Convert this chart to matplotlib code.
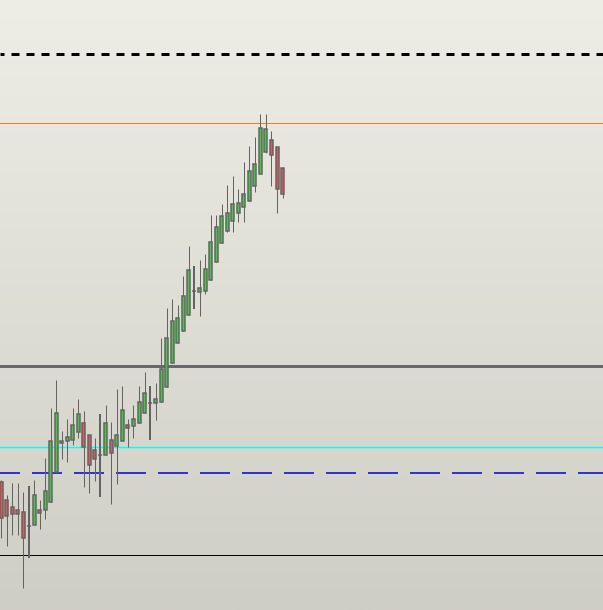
import matplotlib
matplotlib.use("Agg")
import matplotlib.pyplot as plt
from matplotlib.patches import Rectangle
import numpy as np

# ---- data (price units) ----
opens  = [112.8, 111.0, 110.3, 110.0, 109.8, 108.4, 108.5, 110.0, 110.0, 110.8,
          113.8, 116.7, 116.9, 117.0, 117.8, 118.7, 117.5, 116.0, 115.5, 115.5,
          117.0, 116.4, 116.9, 118.5, 118.4, 118.7, 119.7, 120.7, 120.7, 120.8,
          122.3, 124.7, 126.7, 127.9, 129.5, 131.9, 131.8, 131.9, 133.0, 134.8,
          136.7, 137.9, 138.9, 139.7, 140.3, 140.9, 142.4, 143.6, 145.8, 147.0,
          146.3, 144.2]
highs  = [113.0, 111.5, 112.7, 112.7, 111.8, 112.4, 113.0, 111.0, 115.2, 120.2,
          123.0, 117.9, 119.1, 120.2, 121.1, 119.9, 117.5, 117.2, 119.6, 120.5,
          118.8, 122.1, 122.4, 119.1, 120.5, 122.4, 123.8, 122.4, 122.7, 127.2,
          130.2, 131.1, 130.5, 133.4, 136.4, 134.4, 135.0, 135.6, 139.5, 139.5,
          140.6, 142.5, 143.4, 142.1, 144.8, 146.4, 147.3, 149.6, 149.6, 147.9,
          146.3, 144.2]
lows   = [107.2, 106.4, 107.5, 107.5, 102.2, 105.2, 108.5, 108.1, 109.1, 110.8,
          113.8, 115.1, 114.8, 116.5, 117.2, 112.3, 111.7, 112.9, 111.3, 115.5,
          110.6, 112.6, 116.9, 116.3, 117.2, 118.7, 119.7, 117.0, 119.0, 120.8,
          122.3, 124.7, 126.7, 127.9, 129.5, 130.1, 129.4, 131.6, 133.0, 134.8,
          136.7, 137.8, 137.8, 138.8, 138.8, 140.9, 141.8, 143.6, 145.7, 142.4,
          139.7, 141.2]
closes = [109.2, 109.4, 109.6, 109.6, 107.2, 108.4, 111.5, 109.7, 111.9, 116.9,
          119.7, 116.9, 117.3, 118.5, 119.6, 116.3, 114.5, 115.1, 115.5, 118.7,
          115.7, 117.5, 120.0, 118.2, 119.1, 120.8, 121.7, 120.7, 121.1, 124.1,
          127.2, 128.9, 129.2, 131.4, 134.0, 131.9, 132.2, 134.1, 136.8, 138.3,
          139.4, 139.7, 140.6, 140.7, 141.6, 143.9, 144.6, 148.2, 148.1, 145.5,
          142.1, 141.6]

level_black_dashed = 155.6
level_orange = 148.67
level_gray = 124.37
level_cyan = 116.27
level_blue_dashed = 113.73
level_black = 105.5

# ---- figure ----
W, H, DPI = 603, 610, 100
plt.rcParams['lines.scale_dashes'] = False
fig = plt.figure(figsize=(W / DPI, H / DPI), dpi=DPI)
ax = fig.add_axes([0, 0, 1, 1])
spacing_px = 5.52
x0_px = 1.0
xlim = (-x0_px / spacing_px, (W - x0_px) / spacing_px)
ylim = (100.0, 161.0)
ax.set_xlim(*xlim)
ax.set_ylim(*ylim)
ax.axis('off')

# background gradient
top = np.array([239, 238, 230]) / 255.0
bot = np.array([207, 206, 197]) / 255.0
t = np.linspace(0, 1, 256)[:, None]
grad = (top[None, :] * (1 - t) + bot[None, :] * t)[:, None, :]
ax.imshow(grad, extent=[xlim[0], xlim[1], ylim[0], ylim[1]], aspect='auto',
          origin='upper', zorder=0, interpolation='bilinear')

px = 0.72  # points per pixel at 100 dpi

# horizontal levels
ax.axhline(level_black_dashed, color='black', lw=3 * px, zorder=1,
           linestyle=(4 * px, (8 * px, 7 * px)))
ax.axhline(level_orange, color='#f0801e', lw=1 * px, zorder=1)
ax.axhline(level_gray, color='#696969', lw=3 * px, zorder=1)
ax.axhline(level_cyan, color='#00ffff', lw=1.4 * px, zorder=1)
ax.axhline(level_blue_dashed, color='#3232dc', lw=2 * px, zorder=1,
           linestyle=(10 * px, (30 * px, 12 * px)))
ax.axhline(level_black, color='black', lw=1 * px, zorder=1)

# candles
edge = '#636363'
green = '#3fcc3f'
red = '#e05858'
bw = 3.0 / spacing_px
for i, (o, h, l, c) in enumerate(zip(opens, highs, lows, closes)):
    if abs(c - o) < 0.05:
        ax.plot([i, i], [l, h], color=edge, lw=2 * px, zorder=3, solid_capstyle='butt')
        ax.plot([i - 2 / spacing_px, i + 2 / spacing_px], [o, o], color=edge,
                lw=1.5 * px, zorder=4, solid_capstyle='butt')
        continue
    ax.plot([i, i], [l, h], color=edge, lw=1 * px, zorder=3, solid_capstyle='butt')
    fill = green if c > o else red
    ax.add_patch(Rectangle((i - bw / 2, min(o, c)), bw, abs(c - o),
                           facecolor=fill, edgecolor=edge, lw=1.5 * px, zorder=4))

fig.savefig('out.png', dpi=DPI)
